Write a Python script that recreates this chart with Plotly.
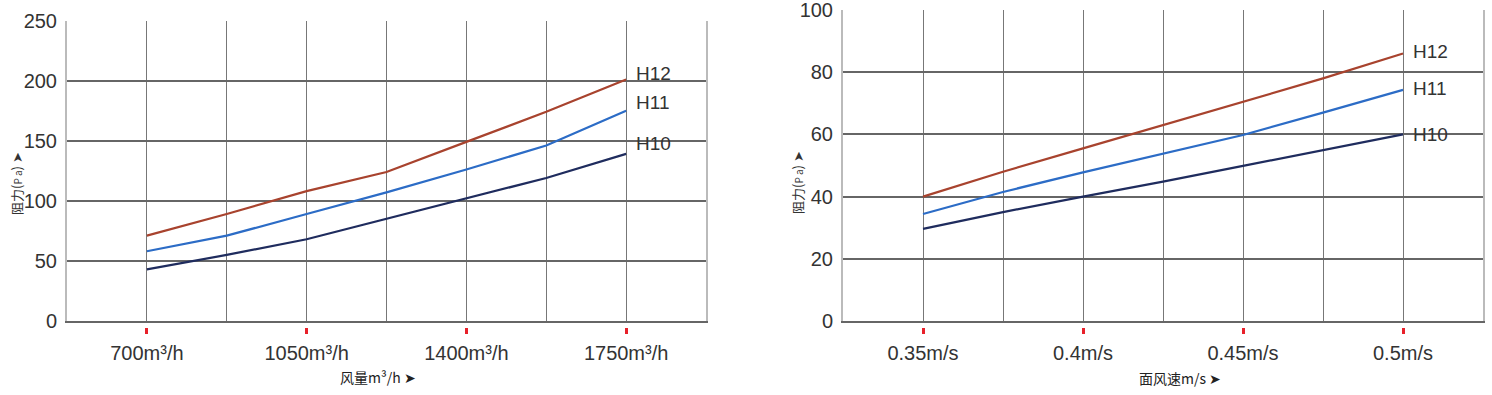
import plotly.graph_objects as go

# ---------- data: left chart (air volume) ----------
flow_x = [700, 875, 1050, 1225, 1400, 1575, 1750]
flow_h12 = [71, 89, 108, 124, 149, 174, 201]
flow_h11 = [58, 71, 89, 107, 126, 146, 175]
flow_h10 = [43, 55, 68, 85, 102, 119, 139]
flow_ticks = [525, 700, 875, 1050, 1225, 1400, 1575, 1750]
flow_ticktext = ["", "700m³/h", "", "1050m³/h", "", "1400m³/h", "", "1750m³/h"]
flow_marked = [700, 1050, 1400, 1750]
flow_yticks = [0, 50, 100, 150, 200, 250]

# ---------- data: right chart (face velocity) ----------
vel_x = [0.35, 0.375, 0.4, 0.425, 0.45, 0.475, 0.5]
vel_h12 = [40, 48, 55.5, 63, 70.5, 78, 86]
vel_h11 = [34.4, 41.5, 47.8, 53.7, 59.8, 67, 74.3]
vel_h10 = [29.6, 35, 40, 44.8, 49.9, 55, 60]
vel_ticks = [0.325, 0.35, 0.375, 0.4, 0.425, 0.45, 0.475, 0.5]
vel_ticktext = ["", "0.35m/s", "", "0.4m/s", "", "0.45m/s", "", "0.5m/s"]
vel_marked = [0.35, 0.4, 0.45, 0.5]
vel_yticks = [0, 20, 40, 60, 80, 100]

series_names = ["H12", "H11", "H10"]
colors = {"H12": "#a8432e", "H11": "#2c6cc6", "H10": "#1f2c5e"}

W, H = 1492, 395
FONT = "Liberation Sans, Arial, sans-serif"
CJK = "Noto Sans CJK SC, sans-serif"

fig = go.Figure()

left = {"H12": flow_h12, "H11": flow_h11, "H10": flow_h10}
right = {"H12": vel_h12, "H11": vel_h11, "H10": vel_h10}

for name in series_names:
    fig.add_trace(go.Scatter(x=flow_x, y=left[name], mode="lines", name=name,
                             line=dict(color=colors[name], width=2.2),
                             xaxis="x", yaxis="y", showlegend=False))
    fig.add_trace(go.Scatter(x=vel_x, y=right[name], mode="lines", name=name,
                             line=dict(color=colors[name], width=2.2),
                             xaxis="x2", yaxis="y2", showlegend=False))

# invisible traces so the red-tick axes are drawn
fig.add_trace(go.Scatter(x=flow_marked, y=[0] * len(flow_marked), mode="markers",
                         marker=dict(opacity=0), xaxis="x3", yaxis="y",
                         showlegend=False, hoverinfo="skip"))
fig.add_trace(go.Scatter(x=vel_marked, y=[0] * len(vel_marked), mode="markers",
                         marker=dict(opacity=0), xaxis="x4", yaxis="y2",
                         showlegend=False, hoverinfo="skip"))

# series labels at line ends
annos = []
offs_left = {"H12": 6, "H11": 8, "H10": 10}
offs_right = {"H12": 2, "H11": 1, "H10": 0}
for name in series_names:
    annos.append(dict(x=flow_x[-1], y=left[name][-1], xref="x", yref="y", text=name,
                      showarrow=False, xanchor="left", yanchor="middle", xshift=8,
                      yshift=offs_left[name],
                      font=dict(family=FONT, size=19, color="#333")))
    annos.append(dict(x=vel_x[-1], y=right[name][-1], xref="x2", yref="y2", text=name,
                      showarrow=False, xanchor="left", yanchor="middle", xshift=8,
                      yshift=offs_right[name],
                      font=dict(family=FONT, size=19, color="#333")))

# axis titles
title_font = dict(family=CJK, size=14, color="#222")
annos.append(dict(x=378 / W, y=1 - 377 / H, xref="paper", yref="paper",
                  xanchor="center", yanchor="middle",
                  text="风量m³/h ➤", showarrow=False, font=title_font))
annos.append(dict(x=1180 / W, y=1 - 378 / H, xref="paper", yref="paper",
                  xanchor="center", yanchor="middle",
                  text="面风速m/s ➤", showarrow=False, font=title_font))
ytitle = "阻力(<span style='font-size:10px'>P a</span>) ➤"
annos.append(dict(x=16 / W, y=1 - 184 / H, xref="paper", yref="paper",
                  xanchor="center", yanchor="middle",
                  text=ytitle, showarrow=False, textangle=-90,
                  font=dict(family=CJK, size=13, color="#333")))
annos.append(dict(x=797 / W, y=1 - 183 / H, xref="paper", yref="paper",
                  xanchor="center", yanchor="middle",
                  text=ytitle, showarrow=False, textangle=-90,
                  font=dict(family=CJK, size=13, color="#333")))

tickfont = dict(family=FONT, size=20, color="#333")
ybot = 1 - 321 / H
ymark = 1 - 327 / H

common_x = dict(showgrid=True, gridcolor="#777", gridwidth=1, zeroline=False,
                showline=True, linecolor="#666", linewidth=1.5, mirror=False,
                ticks="", tickfont=tickfont, ticklabelstandoff=13, tickmode="array",
                automargin=False)
common_y = dict(showgrid=True, gridcolor="#666", gridwidth=1.5, zeroline=False,
                showline=True, linecolor="#bbb", linewidth=2, mirror=True,
                ticks="", tickfont=tickfont, ticklabelstandoff=4, tickmode="array",
                automargin=False, ticklabeloverflow="allow")
mark_x = dict(showgrid=False, zeroline=False, showline=False, showticklabels=False,
              ticks="outside", ticklen=6, tickwidth=2.5, tickcolor="#e8202a",
              tickmode="array", automargin=False, anchor="free", position=ymark)

fig.update_layout(
    width=W, height=H,
    margin=dict(l=0, r=0, t=0, b=0),
    paper_bgcolor="white", plot_bgcolor="white",
    xaxis=dict(common_x, domain=[67 / W, 706 / W], range=[525, 1925],
               tickvals=flow_ticks, ticktext=flow_ticktext, anchor="y"),
    yaxis=dict(common_y, domain=[ybot, 1 - 20.5 / H], range=[0, 250],
               tickvals=flow_yticks, anchor="x"),
    xaxis2=dict(common_x, domain=[843 / W, 1483 / W], range=[0.325, 0.525],
                tickvals=vel_ticks, ticktext=vel_ticktext, anchor="y2"),
    yaxis2=dict(common_y, domain=[ybot, 1 - 10 / H], range=[0, 100],
                tickvals=vel_yticks, anchor="x2"),
    xaxis3=dict(mark_x, domain=[67 / W, 706 / W], range=[525, 1925],
                tickvals=flow_marked, overlaying="x"),
    xaxis4=dict(mark_x, domain=[843 / W, 1483 / W], range=[0.325, 0.525],
                tickvals=vel_marked, overlaying="x2"),
    annotations=annos,
)

fig.write_html("out.html", config={"displayModeBar": False},
               post_script="document.body.style.margin='0px';")
